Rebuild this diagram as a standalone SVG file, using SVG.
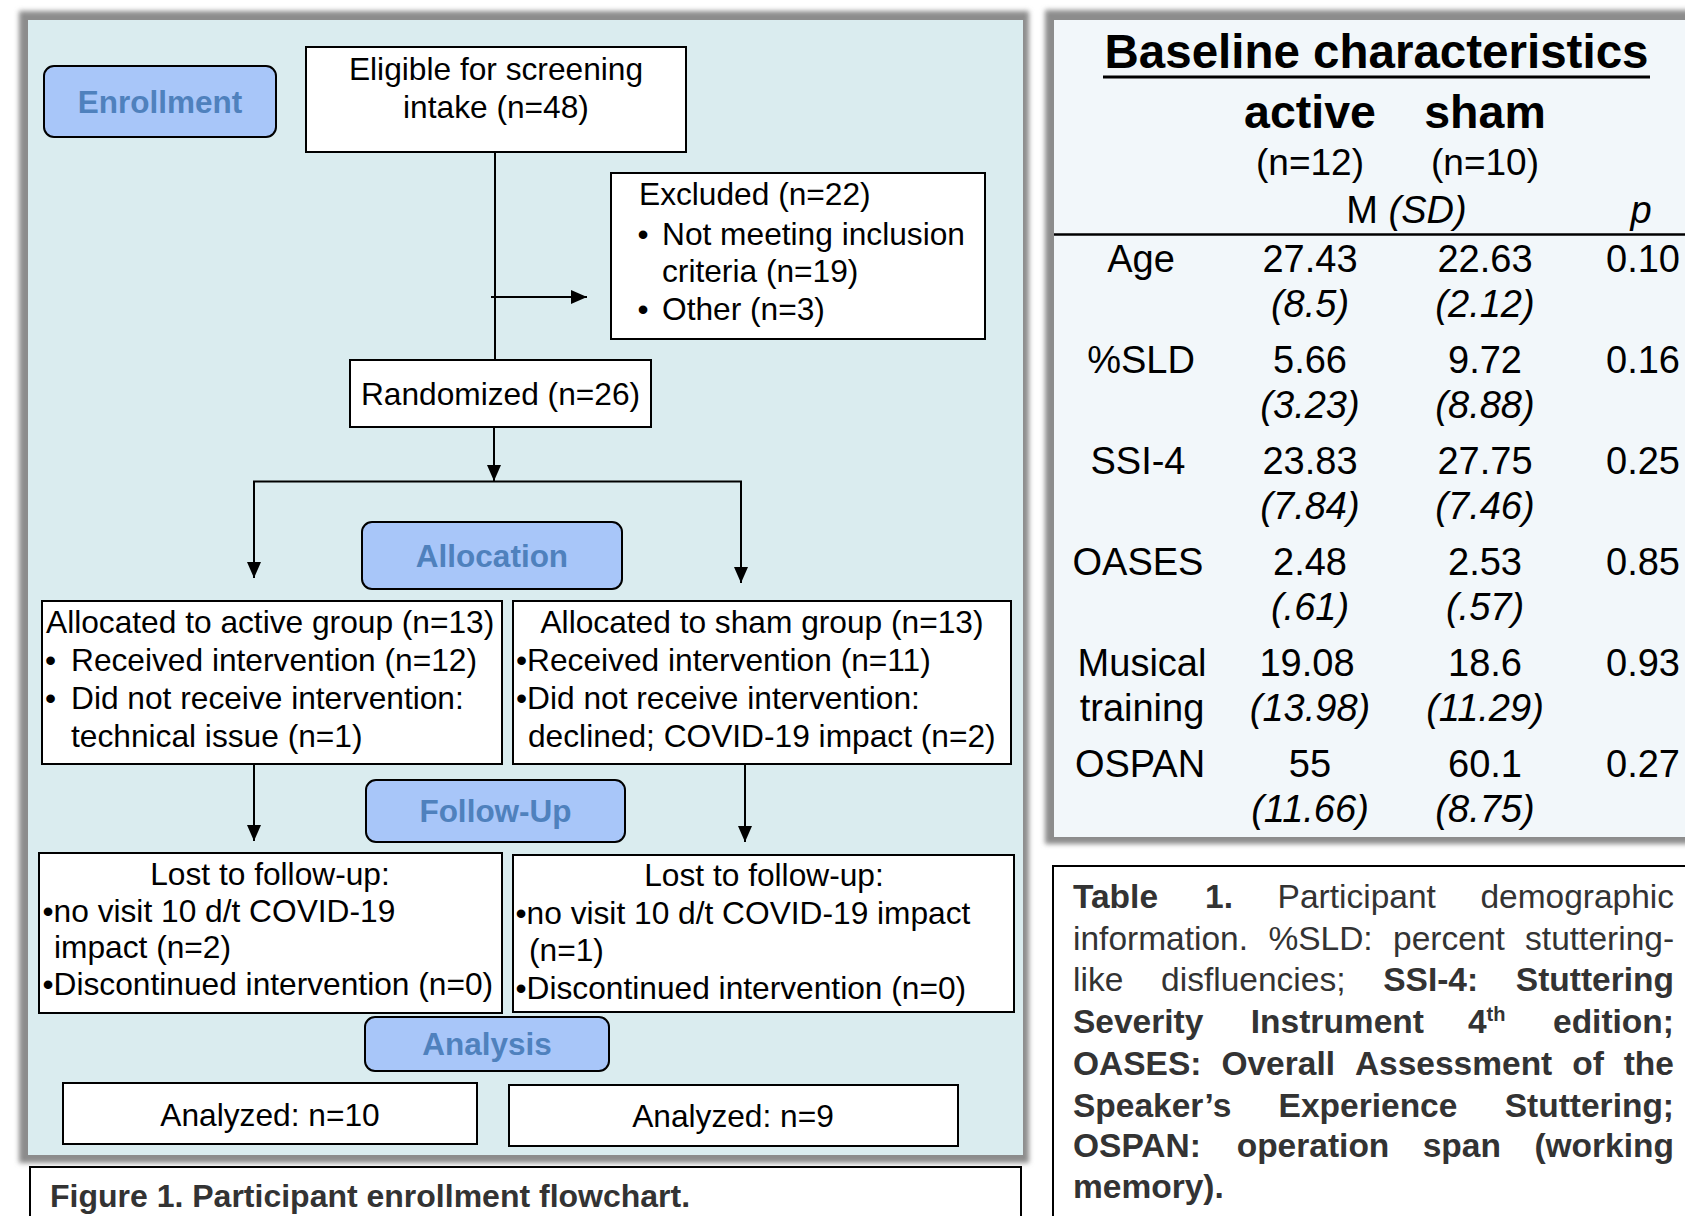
<svg xmlns="http://www.w3.org/2000/svg" width="1685" height="1216" viewBox="0 0 1685 1216">
<defs>
<style>
text { font-family: "Liberation Sans", Arial, sans-serif; }
.t { font-size: 31.7px; fill: #000; }
.c { text-anchor: middle; }
.lbl { font-size: 31.5px; font-weight: bold; fill: #4f81bd; text-anchor: middle; }
.box { fill: #fff; stroke: #000; stroke-width: 2; }
.stage { fill: #a8c6f9; stroke: #000; stroke-width: 2; }
.conn line { stroke: #000; stroke-width: 2; fill: none; }
.arr { marker-end: url(#ah); }
.tb { font-size: 38px; fill: #000; text-anchor: middle; }
.it { font-style: italic; }
.cap { font-size: 33.5px; fill: #333; }
.b { font-weight: bold; }
.shadow { fill: #8c8c8c; filter: url(#blur); }
</style>
<marker id="ah" markerUnits="userSpaceOnUse" markerWidth="16" markerHeight="14" refX="16" refY="7" orient="auto"><path d="M0,0 L16,7 L0,14 z" fill="#000"/></marker>
<filter id="blur" x="-5%" y="-5%" width="110%" height="110%"><feGaussianBlur stdDeviation="2.5"/></filter>
</defs>
<rect x="0" y="0" width="1685" height="1216" fill="#fff"/>

<!-- flowchart panel -->
<g id="flow-panel">
<rect class="shadow" x="19" y="11" width="1010" height="1152"/>
<rect x="28" y="20" width="995" height="1135" fill="#daecef"/>
</g>

<!-- table panel -->
<g id="table-panel">
<rect class="shadow" x="1045" y="10" width="660" height="834"/>
<rect x="1054" y="20" width="640" height="817" fill="#f2f7fa"/>
</g>

<g id="enrollment">
<rect class="stage" x="44" y="66" width="232" height="71" rx="10"/>
<text class="lbl" x="160" y="113">Enrollment</text>
</g>
<g id="allocation">
<rect class="stage" x="362" y="522" width="260" height="67" rx="10"/>
<text class="lbl" x="492" y="567">Allocation</text>
</g>
<g id="followup">
<rect class="stage" x="366" y="780" width="259" height="62" rx="10"/>
<text class="lbl" x="495.5" y="822">Follow-Up</text>
</g>
<g id="analysis">
<rect class="stage" x="365" y="1017" width="244" height="54" rx="10"/>
<text class="lbl" x="487" y="1055">Analysis</text>
</g>

<g id="eligible">
<rect class="box" x="306" y="47" width="380" height="105"/>
<text class="t c" x="496" y="80">Eligible for screening</text>
<text class="t c" x="496" y="118">intake (n=48)</text>
</g>

<g id="excluded">
<rect class="box" x="611" y="173" width="374" height="166"/>
<text class="t" x="639" y="205">Excluded (n=22)</text>
<text class="t" x="637.5" y="245">•</text>
<text class="t" x="662" y="245">Not meeting inclusion</text>
<text class="t" x="662" y="282">criteria (n=19)</text>
<text class="t" x="637.5" y="320">•</text>
<text class="t" x="662" y="320">Other (n=3)</text>
</g>

<g id="randomized">
<rect class="box" x="350" y="360" width="301" height="67"/>
<text class="t c" x="500.5" y="405">Randomized (n=26)</text>
</g>

<g id="alloc-active">
<rect class="box" x="42" y="601" width="460" height="163"/>
<text class="t" x="46" y="633">Allocated to active group (n=13)</text>
<text class="t" x="45" y="671">•</text>
<text class="t" x="71" y="671">Received intervention (n=12)</text>
<text class="t" x="45" y="709">•</text>
<text class="t" x="71" y="709">Did not receive intervention:</text>
<text class="t" x="71" y="747">technical issue (n=1)</text>
</g>

<g id="alloc-sham">
<rect class="box" x="513" y="601" width="498" height="163"/>
<text class="t c" x="762" y="633">Allocated to sham group (n=13)</text>
<text class="t" x="516" y="671">•Received intervention (n=11)</text>
<text class="t" x="516" y="709">•Did not receive intervention:</text>
<text class="t" x="528" y="747">declined; COVID-19 impact (n=2)</text>
</g>

<g id="lost-active">
<rect class="box" x="39" y="853" width="463" height="160"/>
<text class="t c" x="270" y="885">Lost to follow-up:</text>
<text class="t" x="42.5" y="922">•no visit 10 d/t COVID-19</text>
<text class="t" x="54" y="958">impact (n=2)</text>
<text class="t" x="42.5" y="995">•Discontinued intervention (n=0)</text>
</g>

<g id="lost-sham">
<rect class="box" x="513" y="855" width="501" height="157"/>
<text class="t c" x="764" y="886">Lost to follow-up:</text>
<text class="t" x="515.5" y="924">•no visit 10 d/t COVID-19 impact</text>
<text class="t" x="529" y="961">(n=1)</text>
<text class="t" x="515.5" y="999">•Discontinued intervention (n=0)</text>
</g>

<g id="analyzed-active">
<rect class="box" x="63" y="1083" width="414" height="61"/>
<text class="t c" x="270" y="1126">Analyzed: n=10</text>
</g>
<g id="analyzed-sham">
<rect class="box" x="509" y="1085" width="449" height="61"/>
<text class="t c" x="733" y="1127">Analyzed: n=9</text>
</g>

<g id="connectors" class="conn">
<line x1="495" y1="152" x2="495" y2="360"/>
<line class="arr" x1="491" y1="297" x2="587" y2="297"/>
<line class="arr" x1="494" y1="427" x2="494" y2="481"/>
<line x1="253" y1="481.5" x2="742" y2="481.5"/>
<line class="arr" x1="254" y1="481" x2="254" y2="578"/>
<line class="arr" x1="741" y1="481" x2="741" y2="583"/>
<line class="arr" x1="254" y1="764" x2="254" y2="841"/>
<line class="arr" x1="745" y1="765" x2="745" y2="842"/>
</g>

<g id="figure-caption">
<rect class="box" x="30" y="1167" width="991" height="80"/>
<text class="b" x="50" y="1207" style="font-size:32px;fill:#333">Figure 1. Participant enrollment flowchart.</text>
</g>

<g id="table">
<text class="b" x="1376.5" y="68" style="font-size:47.5px;text-anchor:middle">Baseline characteristics</text>
<line x1="1103" y1="77" x2="1650" y2="77" stroke="#000" stroke-width="3"/>
<text class="tb b" x="1310" y="128" style="font-size:46.5px">active</text>
<text class="tb b" x="1485" y="128" style="font-size:46.5px">sham</text>
<text class="tb" x="1310" y="175" style="font-size:37px">(n=12)</text>
<text class="tb" x="1485" y="175" style="font-size:37px">(n=10)</text>
<text class="tb" x="1406.5" y="223">M <tspan class="it">(SD)</tspan></text>
<text class="tb it" x="1641" y="223">p</text>
<line x1="1054" y1="234.5" x2="1685" y2="234.5" stroke="#000" stroke-width="2.5"/>

<text class="tb" x="1141" y="272">Age</text>
<text class="tb" x="1310" y="272">27.43</text>
<text class="tb it" x="1310" y="317">(8.5)</text>
<text class="tb" x="1485" y="272">22.63</text>
<text class="tb it" x="1485" y="317">(2.12)</text>
<text class="tb" x="1643" y="272">0.10</text>

<text class="tb" x="1141" y="373">%SLD</text>
<text class="tb" x="1310" y="373">5.66</text>
<text class="tb it" x="1310" y="418">(3.23)</text>
<text class="tb" x="1485" y="373">9.72</text>
<text class="tb it" x="1485" y="418">(8.88)</text>
<text class="tb" x="1643" y="373">0.16</text>

<text class="tb" x="1138" y="474">SSI-4</text>
<text class="tb" x="1310" y="474">23.83</text>
<text class="tb it" x="1310" y="519">(7.84)</text>
<text class="tb" x="1485" y="474">27.75</text>
<text class="tb it" x="1485" y="519">(7.46)</text>
<text class="tb" x="1643" y="474">0.25</text>

<text class="tb" x="1138" y="575">OASES</text>
<text class="tb" x="1310" y="575">2.48</text>
<text class="tb it" x="1310" y="620">(.61)</text>
<text class="tb" x="1485" y="575">2.53</text>
<text class="tb it" x="1485" y="620">(.57)</text>
<text class="tb" x="1643" y="575">0.85</text>

<text class="tb" x="1142" y="676">Musical</text>
<text class="tb" x="1142" y="721">training</text>
<text class="tb" x="1307" y="676">19.08</text>
<text class="tb it" x="1310" y="721">(13.98)</text>
<text class="tb" x="1485" y="676">18.6</text>
<text class="tb it" x="1485" y="721">(11.29)</text>
<text class="tb" x="1643" y="676">0.93</text>

<text class="tb" x="1140" y="777">OSPAN</text>
<text class="tb" x="1310" y="777">55</text>
<text class="tb it" x="1310" y="822">(11.66)</text>
<text class="tb" x="1485" y="777">60.1</text>
<text class="tb it" x="1485" y="822">(8.75)</text>
<text class="tb" x="1643" y="777">0.27</text>
</g>

<g id="table-caption">
<rect class="box" x="1053" y="866" width="660" height="380"/>
<text class="cap" y="908"><tspan class="b" x="1073">Table</tspan><tspan class="b" x="1205">1.</tspan><tspan x="1277.6">Participant</tspan><tspan x="1480.4">demographic</tspan></text>
<text class="cap" y="950"><tspan x="1073">information.</tspan><tspan x="1268.4">%SLD:</tspan><tspan x="1393.1">percent</tspan><tspan x="1525.1">stuttering-</tspan></text>
<text class="cap" y="991"><tspan x="1073">like</tspan><tspan x="1161.1">disfluencies;</tspan><tspan class="b" x="1383.2">SSI-4:</tspan><tspan class="b" x="1515.8">Stuttering</tspan></text>
<text class="cap b" y="1033"><tspan x="1073">Severity</tspan><tspan x="1250.8">Instrument</tspan><tspan x="1468">4</tspan><tspan x="1486.6" y="1021" style="font-size:20px">th</tspan><tspan x="1553" y="1033">edition;</tspan></text>
<text class="cap b" y="1075"><tspan x="1073">OASES:</tspan><tspan x="1221.4">Overall</tspan><tspan x="1354.9">Assessment</tspan><tspan x="1572.2">of</tspan><tspan x="1623.7">the</tspan></text>
<text class="cap b" y="1117"><tspan x="1073">Speaker’s</tspan><tspan x="1278.6">Experience</tspan><tspan x="1504.7">Stuttering;</tspan></text>
<text class="cap b" y="1157"><tspan x="1073">OSPAN:</tspan><tspan x="1236.7">operation</tspan><tspan x="1422.7">span</tspan><tspan x="1534.4">(working</tspan></text>
<text class="cap b" x="1073" y="1198">memory).</text>
</g>
</svg>
